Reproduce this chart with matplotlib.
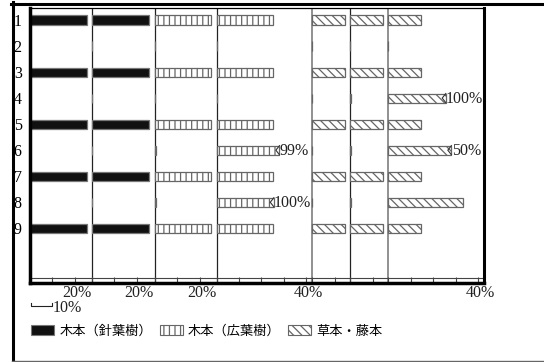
import numpy as np
import matplotlib
matplotlib.use("Agg")
import matplotlib.pyplot as plt
from matplotlib.patches import Patch
from matplotlib.lines import Line2D
from matplotlib.transforms import blended_transform_factory

plt.rcParams['font.family'] = ['Noto Sans CJK JP', 'DejaVu Sans']
plt.rcParams['hatch.linewidth'] = 0.9
plt.rcParams['hatch.color'] = '#333333'

# data
rows = [1, 2, 3, 4, 5, 6, 7, 8, 9]
conifer_a = [25.5, 0, 25.5, 0, 25.5, 0, 25.5, 0, 25.5]
conifer_b = [25.5, 0, 25.5, 0, 25.5, 0, 25.5, 0, 25.5]
broad_a = [25, 0, 25, 0, 25, 0.5, 25, 0.5, 25]
broad_b = [25, 0, 25, 0, 25, 28, 25, 25.5, 25]
broad_b_labels = ['', '', '', '', '', '99%', '', '100%', '']
herb_a = [14.5, 0, 14.5, 0, 14.5, 0, 14.5, 0, 14.5]
herb_b = [14.5, 0, 14.5, 0.5, 14.5, 0.5, 14.5, 0.5, 14.5]
herb_c = [14.5, 0, 14.5, 25.5, 14.5, 28, 14.5, 33, 14.5]
herb_c_labels = ['', '', '', '100%', '', '50%', '', '', '']

panel_widths = [27.5, 28, 27.5, 42.5, 17, 17, 42.5]
panel_scale_labels = ['20%', '20%', '20%', '40%', '', '', '40%']
legend_names = ['木本（針葉樹）', '木本（広葉樹）', '草本・藤本']

SERIF = 'Liberation Serif'
styles = {
    'conifer': dict(color='#111111', edgecolor='#777777', hatch=None),
    'broad': dict(color='white', edgecolor='#666666', hatch='|||'),
    'herb': dict(color='white', edgecolor='#666666', hatch='\\\\\\\\'),
}
panels = [
    (conifer_a, 'conifer', None),
    (conifer_b, 'conifer', None),
    (broad_a, 'broad', None),
    (broad_b, 'broad', broad_b_labels),
    (herb_a, 'herb', None),
    (herb_b, 'herb', None),
    (herb_c, 'herb', herb_c_labels),
]

W, H = 544, 362
fig = plt.figure(figsize=(W / 100, H / 100), dpi=100)
ax = fig.add_axes([30 / W, 1 - 283 / H, 454 / W, 275 / H])

starts = np.concatenate([[0], np.cumsum(panel_widths)[:-1]])
total = sum(panel_widths)
bh = 0.35

for (vals, kind, labels), x0 in zip(panels, starts):
    st = styles[kind]
    ax.barh(rows, vals, left=x0, height=bh, color=st['color'],
            edgecolor=st['edgecolor'], hatch=st['hatch'], linewidth=0.9, zorder=2)
    if labels:
        for r, v, lab in zip(rows, vals, labels):
            if lab:
                xe = x0 + v
                ax.plot([xe, xe - 1.6, xe], [r - bh / 2, r, r + bh / 2],
                        color='#333333', lw=0.8, zorder=3)
                ax.text(xe + 0.1, r + 0.03, lab, va='center', ha='left',
                        fontsize=11.5, family=SERIF, color='#222222')

# panel dividers
for i, x0 in enumerate(starts[1:]):
    c = '#888888' if i in (3, 5) else '#222222'
    ax.axvline(x0, color=c, lw=1.3 if i in (3, 5) else 0.9, zorder=1)

ax.set_xlim(0, total)
ax.set_ylim(11.1, 0.54)

# ticks every 10% inside each panel
ticks = []
for x0, w in zip(starts, panel_widths):
    ticks.extend(x0 + np.arange(0, w, 10))
ticks.append(total)
ax.set_xticks(ticks)
ax.set_xticklabels([])
ax.tick_params(axis='x', direction='in', length=4, width=0.8, color='#444444')
ax.axhline(10.91, color='#444444', lw=0.8)

ax.set_yticks(rows)
ax.set_yticklabels([str(r) for r in rows], family=SERIF, fontsize=11.5)
ax.tick_params(axis='y', length=0, pad=6)

for side, lw in [('left', 2.5), ('right', 2.2), ('bottom', 2.5), ('top', 0.9)]:
    ax.spines[side].set_linewidth(lw)
    ax.spines[side].set_color('black')

# scale labels under panels
tr = blended_transform_factory(ax.transData, fig.transFigure)
for x0, lab in zip(starts, panel_scale_labels):
    if lab:
        pos = 20 if lab == '20%' else 40
        ax.text(x0 + pos + 0.8, 1 - 293 / H, lab, transform=tr, ha='center',
                va='center', fontsize=11.5, family=SERIF, color='#222222')

# 10% scale bar
yb = 1 - 306 / H
ytop = 1 - 303 / H
ax.add_line(Line2D([0.3, 0.3, 10, 10], [ytop, yb, yb, ytop], transform=tr,
                   color='#222222', lw=0.8, clip_on=False))
ax.text(10.2, 1 - 308.5 / H, '10%', transform=tr, ha='left', va='center',
        fontsize=11.5, family=SERIF, color='#222222')

# legend
handles = [Patch(facecolor=styles[k]['color'], edgecolor=styles[k]['edgecolor'],
                 hatch=styles[k]['hatch'], linewidth=0.8)
           for k in ('conifer', 'broad', 'herb')]
fig.legend(handles, legend_names, loc='center left',
           bbox_to_anchor=(26 / W, 1 - 331 / H), ncol=3, frameon=False,
           fontsize=9.5, handlelength=1.75, handleheight=0.75,
           handletextpad=0.4, columnspacing=0.55, borderaxespad=0)

# outer frame
fig.add_artist(Line2D([12.5 / W, 12.5 / W], [1 - 2 / H, 1 - 361 / H],
                      transform=fig.transFigure, color='black', lw=2.2))
fig.add_artist(Line2D([11 / W, 1], [1 - 3.5 / H, 1 - 3.5 / H],
                      transform=fig.transFigure, color='black', lw=2.2))
fig.add_artist(Line2D([12 / W, 1], [1 - 361 / H, 1 - 361 / H],
                      transform=fig.transFigure, color='#666666', lw=1))

fig.savefig('out.png', dpi=100)
